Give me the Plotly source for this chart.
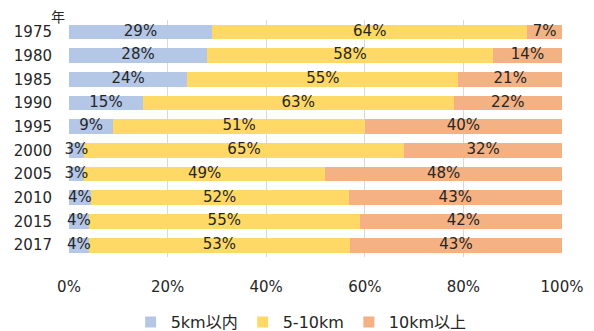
import plotly.graph_objects as go

years = ["1975", "1980", "1985", "1990", "1995", "2000", "2005", "2010", "2015", "2017"]
near = [29, 28, 24, 15, 9, 3, 3, 4.4, 4, 4]
mid = [64, 58, 55, 63, 51, 65, 49, 52.3, 55, 53]
far = [7, 14, 21, 22, 40, 32, 48, 43.3, 42, 43]
series_names = ["5km以内", "5-10km", "10km以上"]
colors = ["#B4C7E7", "#FFD966", "#F4B183"]
xticks = [0, 20, 40, 60, 80, 100]
xticklabels = ["0%", "20%", "40%", "60%", "80%", "100%"]

FONT = "DejaVu Sans, Noto Sans CJK JP, sans-serif"
TXT = "#262626"

fig = go.Figure()
series = [near, mid, far]
for name, vals, col in zip(series_names, series, colors):
    fig.add_trace(go.Bar(
        y=years, x=vals, name=name, orientation="h",
        marker=dict(color=col, line=dict(width=0)),
        showlegend=False, hoverinfo="skip",
    ))

# labels centred on each segment
base = [0.0] * len(years)
for vals in series:
    centers = [b + v / 2 for b, v in zip(base, vals)]
    fig.add_trace(go.Scatter(
        x=centers, y=years, mode="text",
        text=[f"{round(v)}%" for v in vals],
        textposition="middle center",
        textfont=dict(family=FONT, size=15, color=TXT),
        showlegend=False, hoverinfo="skip", cliponaxis=False,
    ))
    base = [b + v for b, v in zip(base, vals)]

# legend entries (square swatches)
for name, col in zip(series_names, colors):
    fig.add_trace(go.Scatter(
        x=[None], y=[None], mode="markers", name=name,
        marker=dict(symbol="square", size=11, color=col),
    ))

fig.update_layout(
    width=594, height=331,
    margin=dict(l=69, r=32, t=20, b=74, autoexpand=False),
    paper_bgcolor="white", plot_bgcolor="white",
    font=dict(family=FONT, color=TXT, size=14),
    barmode="stack",
    bargap=0.38,
    showlegend=True,
    legend=dict(orientation="h", x=0.125, xanchor="left", xref="paper",
                y=-0.275, yanchor="middle", yref="paper",
                font=dict(family=FONT, size=16, color=TXT),
                traceorder="normal", itemwidth=30,
                bgcolor="rgba(0,0,0,0)"),
    xaxis=dict(range=[0, 100], tickvals=xticks, ticktext=xticklabels,
               showgrid=True, gridcolor="#D9D9D9", gridwidth=1,
               zeroline=False, showline=False, ticks="",
               ticklabelstandoff=19,
               tickfont=dict(family=FONT, size=15, color=TXT)),
    yaxis=dict(autorange="reversed", showgrid=False, zeroline=False,
               ticks="", ticklabelstandoff=16,
               tickfont=dict(family=FONT, size=15, color=TXT)),
    annotations=[dict(text="年", xref="paper", yref="paper", x=-0.004, y=1.018,
                      xanchor="right", yanchor="middle", showarrow=False,
                      font=dict(family="Noto Sans CJK JP", size=14, color=TXT))],
)

fig.write_html("out.html")
